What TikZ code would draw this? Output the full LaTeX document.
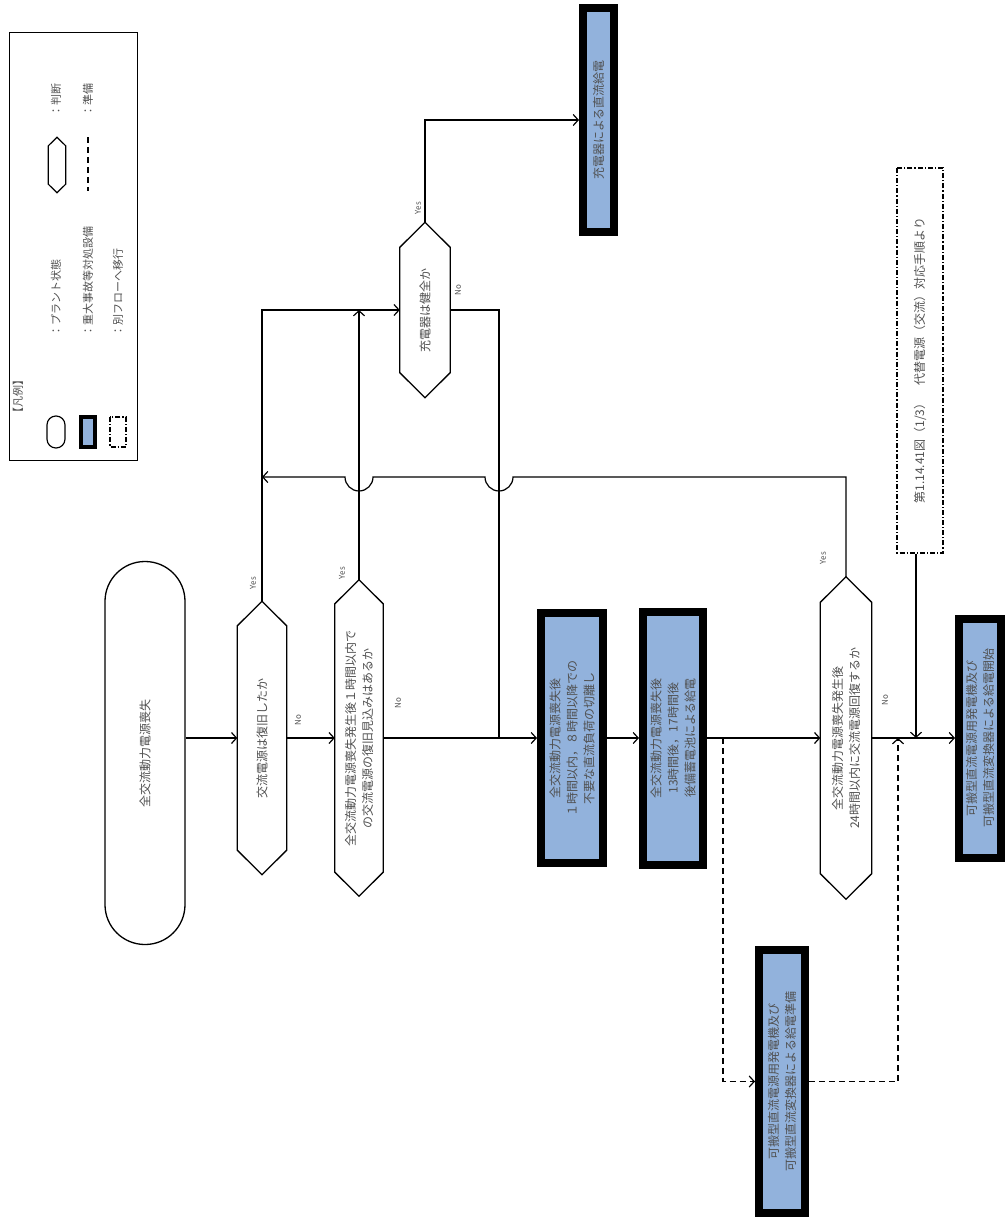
\documentclass[tikz,border=0pt]{standalone}
\usepackage{fontspec}
\setmainfont{Noto Sans CJK JP}
\usetikzlibrary{calc,arrows.meta}
\definecolor{sablue}{RGB}{146,178,220}
\definecolor{txt}{RGB}{80,80,80}
\newcommand\hexdraw[3][1.3pt]{\draw[line width=#1] (#2.east) -- ($(#2.north east)!#3!(#2.north west)$) -- ($(#2.north west)!#3!(#2.north east)$) -- (#2.west) -- ($(#2.south west)!#3!(#2.south east)$) -- ($(#2.south east)!#3!(#2.south west)$) -- cycle;}
\begin{document}
\begin{tikzpicture}[x=1pt,y=-1pt,
  every node/.style={text=txt, font=\fontsize{12}{17}\selectfont, align=center},
  ln/.style={line width=1.2pt, draw=black},
  arr/.style={ln, -{Straight Barb[length=5pt,width=11pt,line width=1.2pt]}},
  startbox/.style={draw=black, line width=1.3pt, rotate=90, rounded corners=39.9pt, minimum height=80pt, inner sep=0pt},
  dec/.style={rotate=90, minimum height=49pt, inner sep=0pt},
  sabox/.style={draw=black, line width=8pt, fill=sablue, rotate=90, inner sep=0pt},
  lab/.style={rotate=90, font=\fontsize{8}{8}\selectfont},
  refbox/.style={draw=black, line width=1.3pt, dash pattern=on 5pt off 2pt on 1.2pt off 2pt, rotate=90, inner sep=0pt},
  legtxt/.style={rotate=90, anchor=west, inner sep=0pt, font=\fontsize{11}{11}\selectfont},
]
\path[use as bounding box] (0,0) rectangle (1008,1218);

% legend
\node[draw=black, line width=1pt, minimum width=128pt, minimum height=428pt, inner sep=0pt] (lg) at (73,246) {};
\node[rotate=90, font=\fontsize{11}{11}\selectfont] (lgt) at (18,396) {【凡例】};
\node[draw=black, line width=1.2pt, rotate=90, rounded corners=8.9pt, minimum width=32pt, minimum height=18pt, inner sep=0pt] (lo) at (56,432) {};
\node[legtxt] (lot) at (56,337) {：プラント状態};
\node[dec, minimum width=55pt, minimum height=17pt] (lh) at (57,165) {};
\hexdraw[1.2pt]{lh}{8.5pt}
\node[legtxt] (lht) at (56,117) {：判断};
\node[sabox, line width=4pt, minimum width=30pt, minimum height=14pt] (ls) at (88,432) {};
\node[legtxt] (lst) at (88,337) {：重大事故等対処設備};
\coordinate (ld1) at (88,137);
\coordinate (ld2) at (88,191);
\draw[line width=1.5pt, dash pattern=on 6pt off 4pt] (ld1) -- (ld2);
\node[legtxt] (ldt) at (88,117) {：準備};
\node[refbox, minimum width=30pt, minimum height=16pt] (lr) at (118,432) {};
\node[legtxt] (lrt) at (118,337) {：別フローへ移行};

% main nodes
\node[startbox, minimum width=383pt] (s) at (145,753) {全交流動力電源喪失};
\node[dec, minimum width=273pt] (d1) at (262,738) {交流電源は復旧したか};
\hexdraw{d1}{24.5pt}
\node[dec, minimum width=316pt, minimum height=48pt] (d2) at (359,738) {全交流動力電源喪失発生後１時間以内で\\の交流電源の復旧見込みはあるか};
\hexdraw{d2}{24pt}
\node[dec, minimum width=175pt, minimum height=50pt] (d3) at (425,310) {充電器は健全か};
\hexdraw{d3}{25pt}
\node[sabox, minimum width=224pt, minimum height=31pt] (bc) at (598.5,120) {充電器による直流給電};
\node[sabox, minimum width=250pt, minimum height=62pt] (b1) at (572,738) {全交流動力電源喪失後\\１時間以内，８時間以降での\\不要な直流負荷の切離し};
\node[sabox, minimum width=253pt, minimum height=60pt] (b2) at (673,738) {全交流動力電源喪失後\\13時間後，17時間後\\後備蓄電池による給電};
\node[sabox, minimum width=263pt, minimum height=46pt] (b3) at (782,1081.5) {可搬型直流電源用発電機及び\\可搬型直流変換器による給電準備};
\node[dec, minimum width=322pt, minimum height=51pt] (d4) at (846,738) {全交流動力電源喪失発生後\\24時間以内に交流電源回復するか};
\hexdraw{d4}{25.5pt}
\node[refbox, minimum width=385pt, minimum height=46pt] (ref) at (920,360.5) {第1.14.41図（1/3）　代替電源（交流）対応手順より};
\node[sabox, minimum width=239pt, minimum height=42pt] (b4) at (980,738) {可搬型直流電源用発電機及び\\可搬型直流変換器による給電開始};

% labels
\node[lab] (y1) at (253,583) {Yes};
\node[lab] (n1) at (298,720) {No};
\node[lab] (y2) at (342,573) {Yes};
\node[lab] (n2) at (398,703) {No};
\node[lab] (y3) at (418,208) {Yes};
\node[lab] (n3) at (458,290) {No};
\node[lab] (y4) at (823,558) {Yes};
\node[lab] (n4) at (885,700) {No};

% junction coordinates
\coordinate (j1) at (499,738);
\coordinate (k1) at (723,738);
\coordinate (k2) at (898,738);
\coordinate (k3) at (916,738);
\coordinate (h0) at (d4.east |- 0,477);
\coordinate (h1) at (j1 |- 0,477);
\coordinate (h2) at (d2.east |- 0,477);
\coordinate (h3) at (d1.east |- 0,477);

% connectors
\draw[arr] (d1.north -| s.south) -- (d1.north);
\draw[arr] (d1.south) -- (d2.north);
\draw[arr] (d2.south) -- (b1.north);
\draw[ln] (d3.south) -| (j1);
\draw[arr] (b1.south) -- (b2.north);
\draw[arr] (b2.south) -- (d4.north);
\draw[arr] (d4.south) -- (b4.north);
\draw[arr] (d1.east) |- (d3.north);
\draw[arr] (d2.east) -- (d2.east |- d3.north);
\draw[arr] (d3.east) |- (bc.north);
\draw[arr, line width=1.5pt, dash pattern=on 6pt off 4pt] (k1) |- (b3.north);
\draw[arr, line width=1.5pt, dash pattern=on 6pt off 4pt] (b3.south) -| (k2);
\draw[arr] (ref.west -| k3) -- (k3);
\draw[arr] (d4.east) -- (h0) -- ($(h1)+(14,0)$) arc[start angle=0,end angle=-180,radius=14pt] -- ($(h2)+(14,0)$) arc[start angle=0,end angle=-180,radius=14pt] -- (h3);
\end{tikzpicture}
\end{document}
